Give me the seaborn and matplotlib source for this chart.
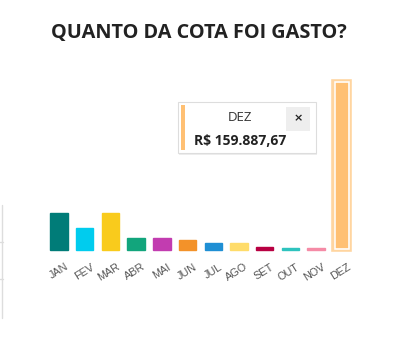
import matplotlib
matplotlib.use("Agg")
import matplotlib.pyplot as plt
import matplotlib.patches as mpatches
from matplotlib.lines import Line2D
import seaborn as sns
import pandas as pd

# Monthly spending of the allowance (R$)
meses = ["JAN", "FEV", "MAR", "ABR", "MAI", "JUN", "JUL", "AGO", "SET", "OUT", "NOV", "DEZ"]
gastos = [34800, 20700, 34800, 11300, 11300, 9400, 6600, 6600, 2800, 2100, 1800, 159887.67]
cores = ["#007C78", "#00CCEE", "#F9CB1C", "#12A57C", "#C23CB0", "#F39229",
         "#1F8FD4", "#FFDC6A", "#B80042", "#2EC3BE", "#F58BA6", "#FFC073"]
destaque = "DEZ"
rotulo_valor = "R$ 159.887,67"

W, H = 397, 357
sns.set_theme(style="white")
plt.rcParams["font.family"] = ["Open Sans", "DejaVu Sans"]

fig = plt.figure(figsize=(W / 100, H / 100), dpi=100)

def px(x, y):
    return x / W, 1 - y / H

# plot area in pixel terms
left_px, right_px = 46.2, 354.6
top_px, base_px = 81, 250
ax = fig.add_axes([left_px / W, 1 - base_px / H, (right_px - left_px) / W, (base_px - top_px) / H])

df = pd.DataFrame({"mes": meses, "gasto": gastos})
sns.barplot(data=df, x="mes", y="gasto", hue="mes", palette=cores, order=meses,
            legend=False, width=0.68, ax=ax, saturation=1)

ax.set_xlim(-0.5, len(meses) - 0.5)
ax.set_ylim(0, max(gastos))
ax.set_xlabel("")
ax.set_ylabel("")
ax.set_yticks([])
ax.set_xticks([])
for s in ax.spines.values():
    s.set_visible(False)

for patch, c, m in zip(ax.patches, cores, meses):
    patch.set_edgecolor(c)
    patch.set_linewidth(1.0)
    patch.set_alpha(1)
    patch.set_clip_on(False)
    if m == destaque:
        patch.set_facecolor("#FFC073")
        patch.set_edgecolor("#FFD5A0")
        patch.set_linewidth(2.6)
        # inner white outline of the selected bar
        x0, w, h = patch.get_x(), patch.get_width(), patch.get_height()
        inner = mpatches.Rectangle((x0 + w * 0.1, h * 0.008), w * 0.8, h * 0.984,
                                   fill=False, edgecolor="white", linewidth=1.1)
        ax.add_patch(inner)

# rotated month labels
for i, m in enumerate(meses):
    ax.annotate(m, xy=(i, 0), xycoords="data", xytext=(4, -8.5), textcoords="offset points",
                rotation=32, rotation_mode="anchor", ha="right", va="top",
                fontsize=7.8, color="#555555", family=["Liberation Sans", "DejaVu Sans"])

# title
fig.text(*px(199, 33), "QUANTO DA COTA FOI GASTO?", ha="center", va="center",
         fontsize=14.3, fontweight="bold", color="#222222")

# thin axis line at the far left
fig.add_artist(Line2D([1.5 / W, 1.5 / W], [1 - 205 / H, 1 - 318 / H],
                      color="#DDDDDD", linewidth=1.0, transform=fig.transFigure))
for yt in (242, 279):
    fig.add_artist(Line2D([0, 3 / W], [1 - yt / H, 1 - yt / H],
                          color="#DDDDDD", linewidth=1.0, transform=fig.transFigure))

# tooltip box
bx0, by0, bx1, by1 = 178, 102, 316, 153
shadow = mpatches.Rectangle(px(bx0 + 1, by1 + 1.5), (bx1 - bx0) / W, (by1 - by0) / H,
                            transform=fig.transFigure, facecolor="#000000", alpha=0.07,
                            edgecolor="none")
fig.add_artist(shadow)
box = mpatches.Rectangle(px(bx0, by1), (bx1 - bx0) / W, (by1 - by0) / H,
                         transform=fig.transFigure, facecolor="white",
                         edgecolor="#DDDDDD", linewidth=0.8)
fig.add_artist(box)
stripe = mpatches.Rectangle(px(181, 150), 4 / W, 45 / H, transform=fig.transFigure,
                            facecolor="#FFC073", edgecolor="none")
fig.add_artist(stripe)
fig.text(*px(240, 118), destaque, ha="center", va="center", fontsize=9.5,
         color="#333333")
fig.text(*px(194.5, 141), rotulo_valor, ha="left", va="center", fontsize=10,
         fontweight="bold", color="#222222")
btn = mpatches.Rectangle(px(286, 131), 24 / W, 24 / H, transform=fig.transFigure,
                         facecolor="#EEEEEE", edgecolor="none")
fig.add_artist(btn)
fig.text(*px(298, 118.5), "×", ha="center", va="center", fontsize=8,
         fontweight="bold", color="#222222", family=["DejaVu Sans"])

fig.savefig("out.png", dpi=100)
